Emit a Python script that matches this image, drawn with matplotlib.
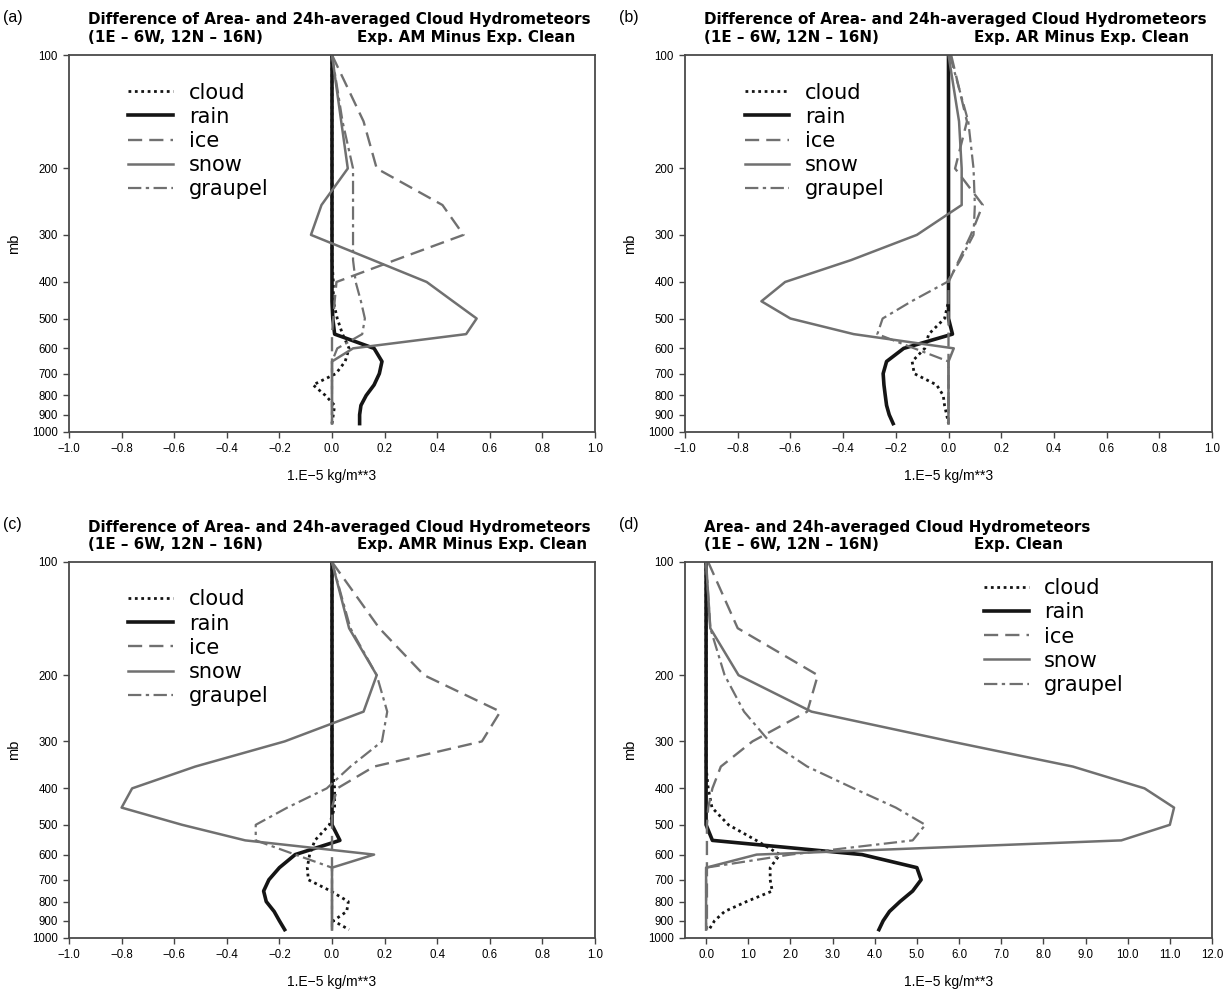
import matplotlib
matplotlib.use('Agg')
import matplotlib.pyplot as plt
from matplotlib.ticker import FuncFormatter, NullLocator

# pressure levels (mb)
levels = [100, 150, 200, 250, 300, 350, 400, 450, 500, 550, 600, 650, 700, 750, 800, 850, 900, 950]

# (a) Exp. AM minus Exp. Clean
cloud_a = [0, 0, 0, 0, 0, 0, 0.005, 0.005, 0.02, 0.04, 0.065, 0.05, 0.015, -0.072, -0.025, 0.01, 0.005, 0.0]
rain_a = [0, 0, 0, 0, 0, 0, 0, 0, 0.003, 0.01, 0.16, 0.19, 0.18, 0.16, 0.13, 0.11, 0.105, 0.105]
ice_a = [0, 0.12, 0.17, 0.42, 0.50, 0.24, 0.017, 0.01, 0.005, 0, 0, 0, 0, 0, 0, 0, 0, 0]
snow_a = [0, 0.035, 0.06, -0.04, -0.08, 0.156, 0.36, 0.46, 0.55, 0.51, 0.08, 0, 0, 0, 0, 0, 0, 0]
graupel_a = [0, 0.04, 0.08, 0.08, 0.08, 0.08, 0.09, 0.11, 0.125, 0.115, 0.02, 0, 0, 0, 0, 0, 0, 0]

# (b) Exp. AR minus Exp. Clean
cloud_b = [0, 0, 0, 0, 0, 0, 0, 0, -0.015, -0.075, -0.09, -0.138, -0.13, -0.045, -0.02, -0.015, -0.007, 0.0]
rain_b = [0, 0, 0, 0, 0, 0, 0, 0, 0, 0.015, -0.17, -0.235, -0.248, -0.245, -0.24, -0.235, -0.225, -0.21]
ice_b = [0.01, 0.07, 0.025, 0.13, 0.085, 0.04, 0.0, 0, 0, 0, 0, 0, 0, 0, 0, 0, 0, 0]
snow_b = [0, 0.04, 0.05, 0.05, -0.12, -0.37, -0.62, -0.71, -0.60, -0.36, 0.02, 0, 0, 0, 0, 0, 0, 0]
graupel_b = [0.005, 0.075, 0.095, 0.10, 0.095, 0.045, -0.005, -0.14, -0.25, -0.27, -0.13, 0, 0, 0, 0, 0, 0, 0]

# (c) Exp. AMR minus Exp. Clean
cloud_c = [0, 0, 0, 0, 0, 0, 0.01, 0.01, -0.01, -0.065, -0.085, -0.094, -0.09, -0.005, 0.062, 0.056, 0.005, 0.065]
rain_c = [0, 0, 0, 0, 0, 0, 0, 0, 0, 0.03, -0.14, -0.2, -0.24, -0.26, -0.25, -0.22, -0.2, -0.18]
ice_c = [0, 0.18, 0.35, 0.64, 0.57, 0.16, 0.02, 0, 0, 0, 0, 0, 0, 0, 0, 0, 0, 0]
snow_c = [0, 0.065, 0.17, 0.12, -0.18, -0.52, -0.76, -0.80, -0.57, -0.33, 0.16, 0, 0, 0, 0, 0, 0, 0]
graupel_c = [0, 0.07, 0.17, 0.21, 0.19, 0.07, -0.02, -0.17, -0.29, -0.29, -0.14, 0, 0, 0, 0, 0, 0, 0]

# (d) Exp. Clean
cloud_d = [0, 0, 0, 0, 0, 0, 0.05, 0.14, 0.53, 1.19, 1.75, 1.52, 1.52, 1.57, 0.96, 0.44, 0.2, 0.07]
rain_d = [0, 0, 0, 0, 0, 0, 0, 0, 0, 0.15, 3.7, 5.0, 5.1, 4.9, 4.6, 4.35, 4.2, 4.1]
ice_d = [0.05, 0.75, 2.65, 2.4, 1.1, 0.35, 0.15, 0.05, 0.02, 0.02, 0.02, 0.02, 0.02, 0.02, 0.02, 0.02, 0.02, 0.02]
snow_d = [0, 0.1, 0.77, 2.5, 5.8, 8.7, 10.4, 11.1, 11.0, 9.85, 1.2, 0, 0, 0, 0, 0, 0, 0]
graupel_d = [0, 0.1, 0.44, 0.9, 1.5, 2.4, 3.5, 4.5, 5.2, 4.9, 2.0, 0, 0, 0, 0, 0, 0, 0]

ytick_vals = [100, 200, 300, 400, 500, 600, 700, 800, 900, 1000]
xticks_diff = [-1.0, -0.8, -0.6, -0.4, -0.2, 0.0, 0.2, 0.4, 0.6, 0.8, 1.0]
xticks_clean = [0, 1, 2, 3, 4, 5, 6, 7, 8, 9, 10, 11, 12]

GRAY = '#707070'
BLACK = '#151515'
TICKFONT = 'Liberation Sans'


def fmt(v, _):
	return f'{v:.1f}'.replace('-', '\u2212')


def drawPanel(ax, series, xticks, xlim, title1, title2a, title2b, tag, legpos):
	cloud, rain, ice, snow, graupel = series
	ax.plot(cloud, levels, color=BLACK, lw=2.0, linestyle=(0, (1, 1.3)), label='cloud')
	ax.plot(rain, levels, color=BLACK, lw=2.6, label='rain')
	ax.plot(ice, levels, color=GRAY, lw=1.7, linestyle=(0, (6, 3)), label='ice')
	ax.plot(snow, levels, color=GRAY, lw=1.8, label='snow')
	ax.plot(graupel, levels, color=GRAY, lw=1.6, linestyle=(0, (6, 2, 1.5, 2)), label='graupel')

	ax.set_yscale('log')
	ax.set_ylim(1000, 100)
	ax.set_yticks(ytick_vals)
	ax.set_yticklabels([str(v) for v in ytick_vals])
	ax.yaxis.set_minor_locator(NullLocator())
	ax.set_xlim(*xlim)
	ax.set_xticks(xticks)
	ax.xaxis.set_major_formatter(FuncFormatter(fmt))
	ax.tick_params(direction='out', length=4, width=1.0, color='#444444', labelsize=8.3, pad=4)
	for lab in ax.get_xticklabels() + ax.get_yticklabels():
		lab.set_family(TICKFONT)
	for sp in ax.spines.values():
		sp.set_color('#4a4a4a')
		sp.set_linewidth(1.3)

	ax.set_xlabel('1.E\u22125 kg/m**3', fontsize=10, family=TICKFONT, va='center')
	ax.xaxis.set_label_coords(0.5, -0.118)
	ax.set_ylabel('mb', fontsize=10.5, family=TICKFONT, labelpad=8)

	# two-line GrADS style title
	ax.text(0.036, 1.093, title1, transform=ax.transAxes, fontsize=10.9, fontweight='bold', va='center', ha='left')
	ax.text(0.036, 1.046, title2a, transform=ax.transAxes, fontsize=10.9, fontweight='bold', va='center', ha='left')
	ax.text(0.548, 1.046, title2b, transform=ax.transAxes, fontsize=10.9, fontweight='bold', va='center', ha='left')
	ax.text(-0.125, 1.10, tag, transform=ax.transAxes, fontsize=11.5, family=TICKFONT, va='center', ha='left')

	ax.legend(loc='upper left', bbox_to_anchor=legpos, frameon=False, fontsize=15,
			  handlelength=2.15, handletextpad=0.75, labelspacing=0.2, borderpad=0, borderaxespad=0)


def main():
	fig = plt.figure(figsize=(12.31, 9.9), dpi=100)
	W, H = 1231.0, 990.0
	axA = fig.add_axes([69 / W, 1 - 432 / H, 526 / W, 377 / H])
	axB = fig.add_axes([685 / W, 1 - 432 / H, 527 / W, 377 / H])
	axC = fig.add_axes([69 / W, 1 - 938 / H, 526 / W, 376 / H])
	axD = fig.add_axes([685 / W, 1 - 938 / H, 527 / W, 376 / H])

	t1 = 'Difference of Area- and 24h-averaged Cloud Hydrometeors'
	t2 = '(1E \u2013 6W, 12N \u2013 16N)'
	drawPanel(axA, (cloud_a, rain_a, ice_a, snow_a, graupel_a), xticks_diff, (-1.0, 1.0),
			  t1, t2, 'Exp. AM Minus Exp. Clean', '(a)', (0.113, 0.927))
	drawPanel(axB, (cloud_b, rain_b, ice_b, snow_b, graupel_b), xticks_diff, (-1.0, 1.0),
			  t1, t2, 'Exp. AR Minus Exp. Clean', '(b)', (0.113, 0.927))
	drawPanel(axC, (cloud_c, rain_c, ice_c, snow_c, graupel_c), xticks_diff, (-1.0, 1.0),
			  t1, t2, 'Exp. AMR Minus Exp. Clean', '(c)', (0.113, 0.927))
	drawPanel(axD, (cloud_d, rain_d, ice_d, snow_d, graupel_d), xticks_clean, (-0.5, 12.0),
			  'Area- and 24h-averaged Cloud Hydrometeors', t2, 'Exp. Clean', '(d)', (0.567, 0.957))

	plt.savefig('out.png', dpi=100)


if __name__ == "__main__":
	main()
